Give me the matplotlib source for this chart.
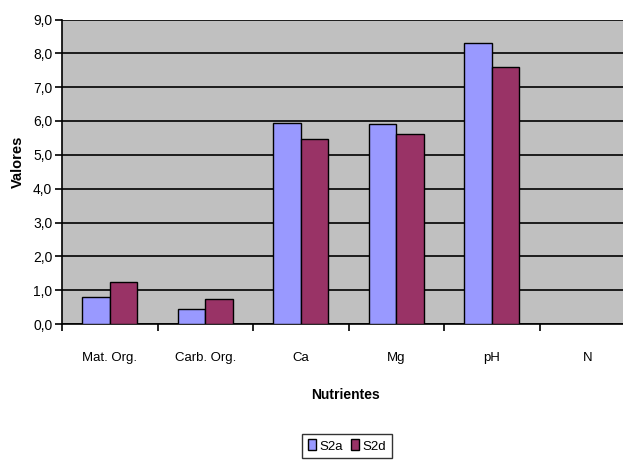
import numpy as np
import matplotlib.pyplot as plt

categorias = ["Mat. Org.", "Carb. Org.", "Ca", "Mg", "pH", "N"]
s2a = [0.8, 0.43, 5.95, 5.92, 8.3, 0.0]
s2d = [1.25, 0.74, 5.47, 5.62, 7.61, 0.0]

plt.rcParams['font.family'] = ['Liberation Sans', 'DejaVu Sans']

fig = plt.figure(figsize=(6.23, 4.68), dpi=100)
ax = fig.add_axes([62/623, 1-324/468, 573/623, 304.5/468])
ax.set_facecolor("#C0C0C0")

x = np.arange(len(categorias))
w = 0.29
ax.bar(x - w/2, s2a, w, color="#9999FF", edgecolor="black", linewidth=1, label="S2a", zorder=3)
ax.bar(x + w/2, s2d, w, color="#993366", edgecolor="black", linewidth=1, label="S2d", zorder=3)

ax.set_xlim(-0.5, len(categorias) - 0.5)
ax.set_ylim(0, 9)
ax.set_yticks(np.arange(0, 10, 1))
ax.set_yticklabels([f"{v:.1f}".replace(".", ",") for v in np.arange(0, 10, 1)], fontsize=10)
ax.yaxis.grid(True, color="black", linewidth=1.2, zorder=1)

ax.set_xticks(x)
ax.set_xticklabels(categorias, fontsize=9.5)
ax.tick_params(axis="x", length=0, pad=20)
ax.set_xticks(np.arange(-0.5, len(categorias)), minor=True)
ax.tick_params(axis="x", which="minor", length=5, width=1.2, direction="out")
ax.tick_params(axis="y", length=5, width=1.2, direction="out", pad=2)

for s in ["top", "right"]:
    ax.spines[s].set_visible(False)
ax.spines["left"].set_linewidth(1.2)
ax.spines["bottom"].set_linewidth(1.2)

ax.set_xlabel("Nutrientes", fontsize=10, fontweight="bold")
ax.xaxis.set_label_coords((345-62)/573, -(388-324)/304.5)
fig.text(18/623, 1-162/468, "Valores", rotation=90, ha="center", va="center",
         fontsize=10.5, fontweight="bold")

leg = fig.legend(loc="center", bbox_to_anchor=(347/623, 1-446/468), ncol=2, fontsize=9.5,
                 frameon=True, fancybox=False, edgecolor="black", handlelength=0.6,
                 handleheight=0.9, handletextpad=0.3, columnspacing=0.6, borderpad=0.4)
leg.get_frame().set_linewidth(1)

fig.savefig("out.png", dpi=100)
